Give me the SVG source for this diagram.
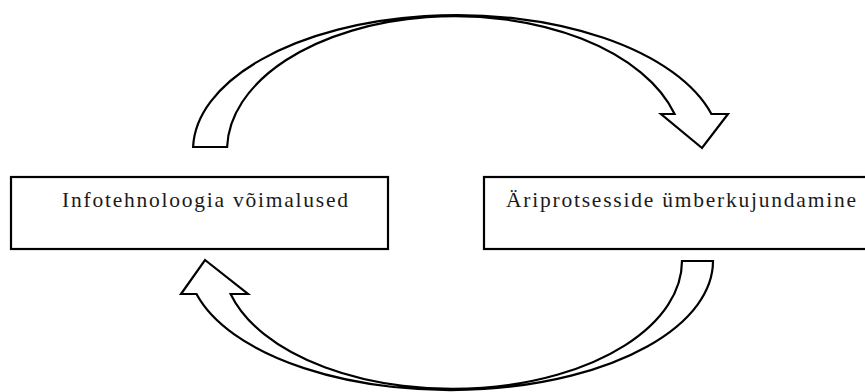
<svg xmlns="http://www.w3.org/2000/svg" width="865" height="392" viewBox="0 0 865 392">
<style>
.box{fill:#fff;stroke:#000;stroke-width:2.2}
.arrow{fill:#fff;stroke:#000;stroke-width:2.2;stroke-linejoin:miter}
.lbl{font-family:"Liberation Serif","Times New Roman",serif;font-size:21.5px;fill:#1a1a1a}
</style>
<rect width="865" height="392" fill="#fff"/>
<g id="connectors">
<path id="arrow-top" class="arrow" d="M 193.1 147 A 264 135 0 0 1 711.4 114 L 728 114 L 702 148 L 661 114 L 674.6 114 A 228 134 0 0 0 227.1 147 Z"/>
<path id="arrow-bottom" class="arrow" d="M 713 261 A 262.6 129 0 0 1 196.5 294 L 181 294 L 205 260 L 248 294 L 230.6 294 A 229.6 128 0 0 0 682 261 Z"/>
</g>
<g id="node-infotehnoloogia">
<rect class="box" x="11" y="177" width="377" height="72"/>
<text class="lbl" x="62" y="207" textLength="286" lengthAdjust="spacing">Infotehnoloogia võimalused</text>
</g>
<g id="node-ariprotsessid">
<rect class="box" x="484" y="177" width="390" height="72"/>
<text class="lbl" x="506" y="207" textLength="350" lengthAdjust="spacing">Äriprotsesside ümberkujundamine</text>
</g>
</svg>
